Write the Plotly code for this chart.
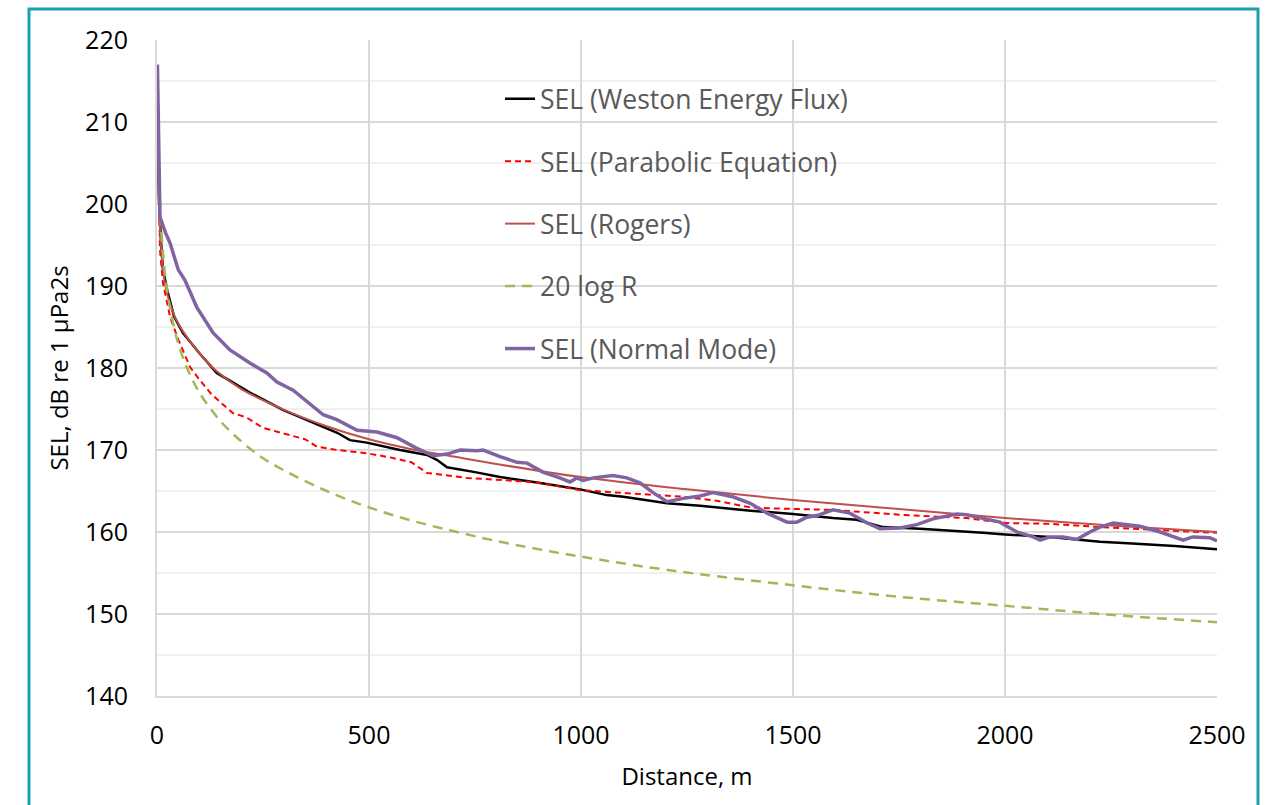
import plotly.graph_objects as go

# ---- data ----
weston_r = [2, 5, 10, 14, 24, 40, 61, 100, 141, 219, 297, 392, 425, 455, 495, 573, 637, 660, 684, 750,
            809, 900, 998, 1061, 1100, 1203, 1281, 1400, 1500, 1594, 1650, 1712, 1800, 1948, 2000, 2106,
            2224, 2300, 2400, 2500]
weston_sel = [207, 200, 195, 192, 189.5, 186.3, 184.3, 181.8, 179.4, 177, 174.9, 172.8, 172.1, 171.2, 170.9,
              170, 169.4, 168.8, 167.9, 167.3, 166.7, 166.0, 165.2, 164.5, 164.3, 163.5, 163.2, 162.6, 162.2,
              161.7, 161.5, 160.6, 160.4, 159.9, 159.7, 159.4, 158.8, 158.6, 158.3, 157.9]

pe_r = [2, 4, 7, 14, 31, 50, 78, 100, 125, 150, 179, 210, 250, 314, 350, 377, 425, 495, 550, 600, 637, 731,
        887, 998, 1123, 1241, 1320, 1399, 1439, 1594, 1752, 1910, 2000, 2106, 2224, 2350, 2500]
pe_sel = [209, 203, 194.4, 190.4, 186.2, 183.5, 180.1, 178.6, 177, 175.8, 174.5, 174, 172.7, 171.8, 171.3,
          170.4, 170, 169.6, 169.1, 168.5, 167.2, 166.6, 166.1, 165.1, 164.7, 164.3, 163.8, 163.0, 162.9,
          162.7, 162.1, 161.7, 161.1, 161.0, 160.6, 160.3, 159.9]

rogers_r = [2, 5, 10, 20, 40, 61, 100, 141, 200, 300, 400, 500, 600, 700, 800, 1000, 1250, 1500, 1750,
            2000, 2250, 2500]
rogers_sel = [208, 199.5, 194.5, 190, 186.5, 184.5, 181.8, 179.6, 177.4, 174.9, 172.9, 171.3, 170.1, 169.2,
              168.3, 166.7, 165.2, 163.9, 162.8, 161.7, 160.8, 160.0]

log_r = [2.5, 3, 4, 5, 7, 10, 15, 20, 30, 40, 50, 70, 100, 150, 200, 250, 300, 400, 500, 600, 700, 800,
         900, 1000, 1200, 1500, 1750, 2000, 2250, 2500]
log_sel = [209, 207.5, 205, 203, 200.1, 197, 193.5, 191, 187.5, 185, 183, 180.1, 177, 173.5, 171, 169,
           167.5, 165, 163, 161.4, 160.1, 158.9, 157.9, 157, 155.4, 153.5, 152.1, 151, 149.9, 149]

nm_r = [1, 5, 7, 20, 31, 50, 66, 94, 132, 172, 219, 259, 283, 321, 368, 392, 424, 472, 519, 566, 613, 651,
        684, 715, 755, 769, 809, 825, 849, 873, 910, 950, 974, 990, 1005, 1029, 1075, 1108, 1139, 1170,
        1203, 1241, 1281, 1311, 1358, 1399, 1439, 1486, 1509, 1533, 1557, 1594, 1634, 1675, 1705, 1752,
        1792, 1830, 1887, 1910, 1948, 1988, 2028, 2066, 2083, 2106, 2137, 2170, 2200, 2224, 2255, 2288,
        2318, 2366, 2396, 2420, 2443, 2483, 2500]
nm_sel = [217, 203, 198.4, 196.5, 195.2, 192, 190.7, 187.4, 184.3, 182.2, 180.6, 179.4, 178.3, 177.3, 175.3,
          174.3, 173.7, 172.4, 172.2, 171.5, 170.2, 169.3, 169.5, 170, 169.9, 170, 169.2, 168.9, 168.5,
          168.4, 167.3, 166.6, 166.1, 166.6, 166.3, 166.6, 166.9, 166.6, 166, 164.8, 163.7, 164.1, 164.4,
          164.8, 164.3, 163.5, 162.3, 161.2, 161.2, 161.8, 162, 162.7, 162.3, 161.1, 160.4, 160.5, 160.9,
          161.6, 162.2, 162.1, 161.7, 161.2, 160, 159.4, 159, 159.4, 159.4, 159.1, 160, 160.6, 161.1,
          160.9, 160.7, 160, 159.4, 159, 159.4, 159.3, 158.9]

x_ticks = [0, 500, 1000, 1500, 2000, 2500]
y_ticks = [140, 150, 160, 170, 180, 190, 200, 210, 220]

FONT = "Open Sans"

fig = go.Figure()
fig.add_trace(go.Scatter(x=weston_r, y=weston_sel, mode="lines", name="SEL (Weston Energy Flux)",
                         legendgroup="a", line=dict(color="#000000", width=2.5)))
fig.add_trace(go.Scatter(x=pe_r, y=pe_sel, mode="lines", name="SEL (Parabolic Equation)",
                         legendgroup="b", line=dict(color="#ff0000", width=2, dash="6px,4px")))
fig.add_trace(go.Scatter(x=rogers_r, y=rogers_sel, mode="lines", name="SEL (Rogers)",
                         legendgroup="c", line=dict(color="#c0504d", width=2, shape="spline")))
fig.add_trace(go.Scatter(x=log_r, y=log_sel, mode="lines", name="20 log R",
                         legendgroup="d", line=dict(color="#9bbb59", width=2.5, dash="10px,7px", shape="spline")))
fig.add_trace(go.Scatter(x=nm_r, y=nm_sel, mode="lines", name="SEL (Normal Mode)",
                         legendgroup="e", line=dict(color="#8064a2", width=3.5)))

L, R, T, B = 157, 51, 40, 109
W, H = 1268, 805
pw, ph = W - L - R, H - T - B

def px_x(p):
    return (p - L) / pw

def px_y(p):
    return (H - B - p) / ph

fig.add_shape(type="rect", xref="paper", yref="paper",
              x0=px_x(29), x1=px_x(1258), y0=px_y(820), y1=px_y(9),
              line=dict(color="#1ba1ad", width=3), fillcolor="rgba(0,0,0,0)", layer="above")

fig.update_layout(
    width=W, height=H,
    margin=dict(l=L, r=R, t=T, b=B),
    paper_bgcolor="white", plot_bgcolor="white",
    font=dict(family=FONT, color="#000000"),
    legend=dict(x=px_x(500), y=px_y(75), xanchor="left", yanchor="top",
                font=dict(size=26.5, color="#595959", family=FONT),
                tracegroupgap=25, bgcolor="rgba(0,0,0,0)", traceorder="grouped"),
    showlegend=True,
)
fig.update_xaxes(range=[0, 2500], tickvals=x_ticks, ticktext=[str(v) for v in x_ticks],
                 showgrid=True, gridcolor="#d9d9d9", gridwidth=1.5,
                 showline=True, linecolor="#d9d9d9", linewidth=2, mirror=False,
                 zeroline=False, ticks="", ticklabelstandoff=16,
                 tickfont=dict(size=25, color="#000000", family=FONT),
                 title=dict(text="Distance, m", font=dict(size=24, color="#000000", family=FONT), standoff=18))
fig.update_yaxes(range=[140, 220], tickvals=y_ticks, ticktext=[str(v) for v in y_ticks],
                 showgrid=True, gridcolor="#d9d9d9", gridwidth=1.5,
                 minor=dict(dtick=5, showgrid=True, gridcolor="#f0f0f0", gridwidth=1.5),
                 showline=True, linecolor="#d9d9d9", linewidth=2,
                 zeroline=False, ticks="", ticklabelstandoff=22,
                 tickfont=dict(size=25, color="#000000", family=FONT),
                 title=dict(text="SEL, dB re 1 μPa2s", font=dict(size=24, color="#000000", family=FONT), standoff=10))

fig.write_html("out.html", config={"displayModeBar": False},
               post_script="document.body.style.margin='0';document.body.style.overflow='hidden';")
